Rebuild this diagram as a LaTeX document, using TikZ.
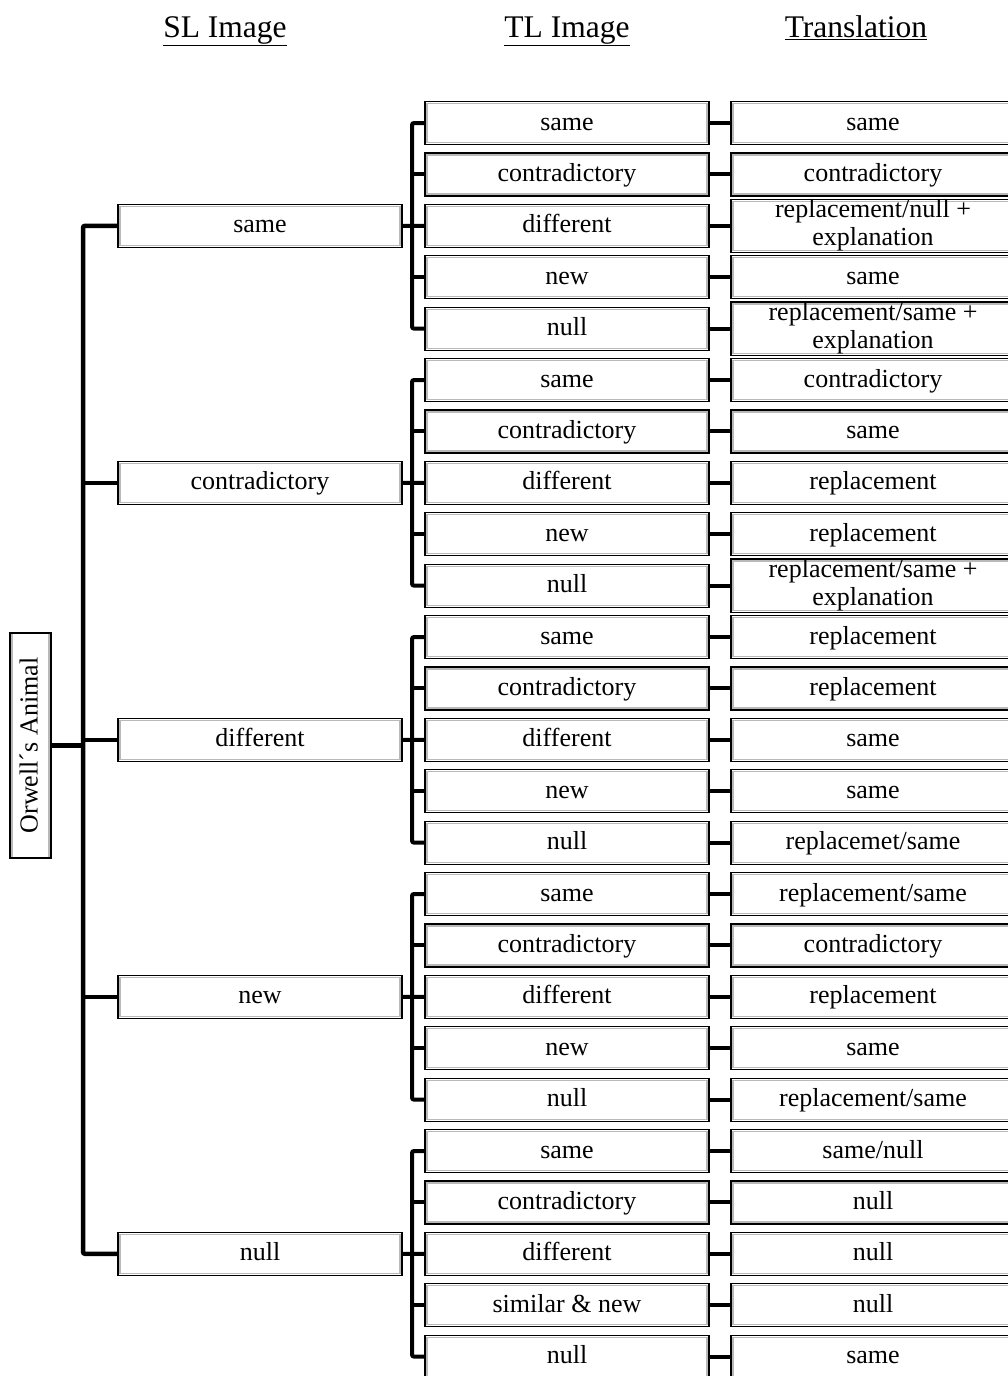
\documentclass[tikz,border=0pt]{standalone}
\usepackage{fontspec}
\setmainfont{Liberation Serif}
\newcommand\bxstrut{\rule[-7pt]{0pt}{28pt}}
\begin{document}
\begin{tikzpicture}[x=1pt,y=-1pt,
  box/.style={draw=black, line width=1.2pt, minimum width=284pt, minimum height=43pt,
    inner sep=0pt, align=center, font=\fontsize{26}{28}\selectfont,
    execute at begin node=\bxstrut,
    path picture={\draw[gray!55, line width=1.2pt]
      ([shift={(2pt,-2pt)}]path picture bounding box.north west) rectangle
      ([shift={(-2pt,2pt)}]path picture bounding box.south east);}},
  head/.style={font=\fontsize{31.5}{34}\selectfont, inner sep=0pt, anchor=base},
  bus/.style={line width=4pt, rounded corners=2pt},
  link/.style={line width=4pt}]
\useasboundingbox (0,0) rectangle (1008,1376);

% column headings
\node[head] (hsl) at (225,37) {\underline{SL Image}};
\node[head] (htl) at (567,37) {\underline{TL Image}};
\node[head] (htr) at (856,37) {\underline{Translation}};

% root
\node[box, rotate=90, minimum width=225pt, minimum height=41pt] (root) at (30.5,745.5) {Orwell´s Animal};

% SL image boxes
\foreach \g/\lab in {0/same,1/contradictory,2/different,3/new,4/null}{
  \node[box] (sl\g) at (260,{225.8+257*\g}) {\lab};
}

% spine joining root and SL boxes
\coordinate (sptop) at (83,225.8);
\coordinate (spbot) at (83,1253.8);
\draw[bus, line width=4.5pt] (sl0.west) -- (sptop) -- (spbot) -- (sl4.west);
\foreach \g in {1,2,3}{ \draw[link, line width=4.5pt] (sl\g.west) -- (sl\g.west -| sptop); }
\draw[link, line width=4.5pt] (root.south) -- (root.south -| sptop);

% TL image / translation pairs
\newcommand\tlpair[4]{%
  \node[box] (tl#1#2) at (567,{123+51.4*(5*#1+#2)}) {#3};
  \node[box] (tr#1#2) at (873,{123+51.4*(5*#1+#2)}) {#4};
  \draw[link] (tl#1#2.east) -- (tr#1#2.west);
}

\tlpair{0}{0}{same}{same}
\tlpair{0}{1}{contradictory}{contradictory}
\tlpair{0}{2}{different}{replacement/null +\\\bxstrut explanation}
\tlpair{0}{3}{new}{same}
\tlpair{0}{4}{null}{replacement/same +\\\bxstrut explanation}

\tlpair{1}{0}{same}{contradictory}
\tlpair{1}{1}{contradictory}{same}
\tlpair{1}{2}{different}{replacement}
\tlpair{1}{3}{new}{replacement}
\tlpair{1}{4}{null}{replacement/same +\\\bxstrut explanation}

\tlpair{2}{0}{same}{replacement}
\tlpair{2}{1}{contradictory}{replacement}
\tlpair{2}{2}{different}{same}
\tlpair{2}{3}{new}{same}
\tlpair{2}{4}{null}{replacemet/same}

\tlpair{3}{0}{same}{replacement/same}
\tlpair{3}{1}{contradictory}{contradictory}
\tlpair{3}{2}{different}{replacement}
\tlpair{3}{3}{new}{same}
\tlpair{3}{4}{null}{replacement/same}

\tlpair{4}{0}{same}{same/null}
\tlpair{4}{1}{contradictory}{null}
\tlpair{4}{2}{different}{null}
\tlpair{4}{3}{similar \& new}{null}
\tlpair{4}{4}{null}{same}

% buses from each SL box to its TL boxes
\foreach \g in {0,...,4}{
  \coordinate (bt\g) at (412,{123+51.4*(5*\g)});
  \draw[bus] (tl\g0.west) -- (bt\g) -- (bt\g |- tl\g4.west) -- (tl\g4.west);
  \draw[link] (tl\g1.west) -- (tl\g1.west -| bt\g);
  \draw[link] (tl\g3.west) -- (tl\g3.west -| bt\g);
  \draw[link] (sl\g.east) -- (tl\g2.west);
}
\end{tikzpicture}
\end{document}
